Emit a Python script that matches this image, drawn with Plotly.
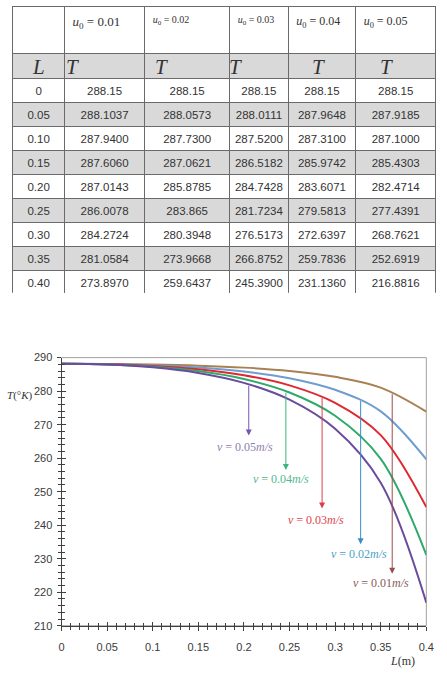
import numpy as np
import plotly.graph_objects as go

# ---------------- data ----------------
L_labels = ["0", "0.05", "0.10", "0.15", "0.20", "0.25", "0.30", "0.35", "0.40"]
u0_labels = ["0.01", "0.02", "0.03", "0.04", "0.05"]
T_u001 = ["288.15", "288.1037", "287.9400", "287.6060", "287.0143", "286.0078", "284.2724", "281.0584", "273.8970"]
T_u002 = ["288.15", "288.0573", "287.7300", "287.0621", "285.8785", "283.865", "280.3948", "273.9668", "259.6437"]
T_u003 = ["288.15", "288.0111", "287.5200", "286.5182", "284.7428", "281.7234", "276.5173", "266.8752", "245.3900"]
T_u004 = ["288.15", "287.9648", "287.3100", "285.9742", "283.6071", "279.5813", "272.6397", "259.7836", "231.1360"]
T_u005 = ["288.15", "287.9185", "287.1000", "285.4303", "282.4714", "277.4391", "268.7621", "252.6919", "216.8816"]
series_T = [T_u001, T_u002, T_u003, T_u004, T_u005]

v_labels = ["0.01", "0.02", "0.03", "0.04", "0.05"]
line_colors = ["#a98052", "#6e9dd0", "#e0282f", "#2fa96c", "#6a4c9e"]
arrow_colors = ["#9c4b4e", "#3a8cc8", "#d8404a", "#3cb67a", "#7656ae"]
label_colors = ["#8a5a5c", "#4c9fc9", "#e0464e", "#52b98c", "#8f80b2"]
# arrow x positions, arrow tip (T) and label centres (L, T)
arrow_x = [0.3626, 0.328, 0.2857, 0.246, 0.2053]
arrow_tip = [225.5, 234.3, 245.0, 256.5, 266.8]
label_x = [0.3508, 0.3262, 0.2791, 0.2406, 0.2011]
label_y = [222.9, 231.4, 241.6, 253.7, 263.3]

x_vals = [float(s) for s in L_labels]

W, H = 447, 673
SANS = "Liberation Sans, Arial, sans-serif"
SERIF = "Liberation Serif, Times New Roman, serif"


def catmull(xs, ys, xq):
    xs = np.asarray(xs); ys = np.asarray(ys)
    i = int(np.clip(np.searchsorted(xs, xq) - 1, 0, len(xs) - 2))
    h = xs[i + 1] - xs[i]
    t = (xq - xs[i]) / h
    m0 = (ys[i + 1] - ys[max(i - 1, 0)]) / (xs[i + 1] - xs[max(i - 1, 0)])
    m1 = (ys[min(i + 2, len(xs) - 1)] - ys[i]) / (xs[min(i + 2, len(xs) - 1)] - xs[i])
    h00 = 2 * t**3 - 3 * t**2 + 1
    h10 = t**3 - 2 * t**2 + t
    h01 = -2 * t**3 + 3 * t**2
    h11 = t**3 - t**2
    return h00 * ys[i] + h10 * h * m0 + h01 * ys[i + 1] + h11 * h * m1


fig = go.Figure()

# ---------------- table ----------------
gray = "#d9d9d9"
lc = dict(color="#6a6a6a", width=1)
colw = [53, 82, 87, 60, 69, 82]
tx = [10 / W, 444 / W]
NB = "\u00a0"
header_vals = [""] + [f"<i>u</i><sub>0</sub>{NB}={NB}{u}" for u in u0_labels]
# part 1: u0 header + (gray) L/T row
fig.add_trace(go.Table(
    domain=dict(x=tx, y=[1 - 75 / H, 1]),
    columnwidth=colw,
    header=dict(values=header_vals, height=47, align="left",
                fill_color="white", line=lc,
                font=dict(family=SERIF, size=[13, 13, 10, 10, 12, 12], color="#333")),
    cells=dict(values=[[""]] * 6, height=27, fill_color=gray, line=lc,
               font=dict(family=SERIF, size=12, color="#333")),
))
# part 2: numeric rows
first = [L_labels[0]] + [s[0] for s in series_T]
rest = [L_labels[1:]] + [s[1:] for s in series_T]
n = len(L_labels) - 1
fills = [gray if r % 2 == 0 else "white" for r in range(n)]
fig.add_trace(go.Table(
    domain=dict(x=tx, y=[1 - 292 / H, 1 - 74 / H]),
    columnwidth=colw,
    header=dict(values=first, height=24, align="center", fill_color="white", line=lc,
                font=dict(family=SANS, size=11.5, color="#333")),
    cells=dict(values=rest, height=24, align="center", fill_color=[fills] * 6, line=lc,
               font=dict(family=SANS, size=11.5, color="#333")),
))

ann = []
# L / T header letters
lt_x = [36, 71, 162, 238, 323, 393]
lt_txt = ["L", "T", "T", "T", "T", "T"]
for xp, t in zip(lt_x, lt_txt):
    ann.append(dict(x=xp / W, y=1 - 62 / H, xref="paper", yref="paper", xanchor="center",
                    yanchor="middle", text=f"<i>{t}</i>", showarrow=False,
                    font=dict(family=SERIF, size=21, color="#333")))

# ---------------- line chart ----------------
for lab, T, c in zip(v_labels, series_T, line_colors):
    fig.add_trace(go.Scatter(x=x_vals, y=[float(v) for v in T], mode="lines",
                             line=dict(color=c, width=2, shape="spline", smoothing=1),
                             name=f"v = {lab} m/s", showlegend=False,
                             xaxis="x", yaxis="y"))
fig.add_trace(go.Scatter(x=[], y=[], xaxis="x2", yaxis="y2", showlegend=False))

for k in range(5):
    tail = catmull(x_vals, [float(v) for v in series_T[k]], arrow_x[k])
    ann.append(dict(x=arrow_x[k], y=arrow_tip[k], ax=arrow_x[k], ay=tail,
                    xref="x", yref="y", axref="x", ayref="y", text="",
                    showarrow=True, arrowhead=2, arrowsize=1.2, arrowwidth=1,
                    arrowcolor=arrow_colors[k], standoff=0, startstandoff=0))
    ann.append(dict(x=label_x[k], y=label_y[k], xref="x", yref="y",
                    text=f"<i>v</i> = {v_labels[k]}<i>m/s</i>", showarrow=False,
                    font=dict(family=SERIF, size=12, color=label_colors[k])))
ann.append(dict(x=17 / W, y=1 - 397 / H, xref="paper", yref="paper", xanchor="center",
                yanchor="middle", text="<i>T</i>(°<i>K</i>)",
                showarrow=False, font=dict(family=SERIF, size=11, color="#333")))
ann.append(dict(x=410 / W, y=1 - 667 / H, xref="paper", yref="paper", xanchor="center",
                yanchor="middle", text="<i>L</i>(m)",
                showarrow=False, font=dict(family=SERIF, size=12, color="#333")))

xd = [60 / W, 434 / W]
yd = [1 - 631 / H, 1 - 358 / H]
axc = "#404040"
tickfont = dict(family=SANS, size=11, color="#3a3a3a")
fig.update_layout(
    width=W, height=H, margin=dict(l=0, r=0, t=0, b=0),
    paper_bgcolor="white", plot_bgcolor="white", showlegend=False,
    annotations=ann,
    shapes=[dict(type="rect", xref="paper", yref="paper", x0=xd[0], x1=xd[1], y0=yd[0], y1=yd[1],
                 line=dict(color="#a0a0a0", width=1), layer="below")],
    xaxis=dict(domain=xd, range=[0, 0.4], anchor="y", showgrid=False, zeroline=False,
               showline=True, linecolor=axc, linewidth=1, ticks="outside", ticklen=4,
               tickcolor=axc, tick0=0, dtick=0.05, tickfont=tickfont, ticklabelstandoff=7,
               minor=dict(dtick=0.01, ticks="outside", ticklen=3, tickcolor=axc)),
    yaxis=dict(domain=yd, range=[210, 290], anchor="x", showgrid=False, zeroline=False,
               showline=True, linecolor=axc, linewidth=1, ticks="outside", ticklen=4,
               tickcolor=axc, tick0=210, dtick=10, tickfont=tickfont, ticklabelstandoff=2,
               minor=dict(dtick=2, ticks="outside", ticklen=3, tickcolor=axc)),
    xaxis2=dict(domain=xd, range=[0, 0.4], anchor="y2", overlaying="x", showgrid=False,
                zeroline=False, showticklabels=False, ticks="inside", ticklen=4, tickcolor=axc,
                tick0=0, dtick=0.05, minor=dict(dtick=0.01, ticks="inside", ticklen=3, tickcolor=axc)),
    yaxis2=dict(domain=yd, range=[210, 290], anchor="x2", overlaying="y", showgrid=False,
                zeroline=False, showticklabels=False, ticks="inside", ticklen=4, tickcolor=axc,
                tick0=210, dtick=10, minor=dict(dtick=2, ticks="inside", ticklen=3, tickcolor=axc)),
)

fig.write_html("out.html")
